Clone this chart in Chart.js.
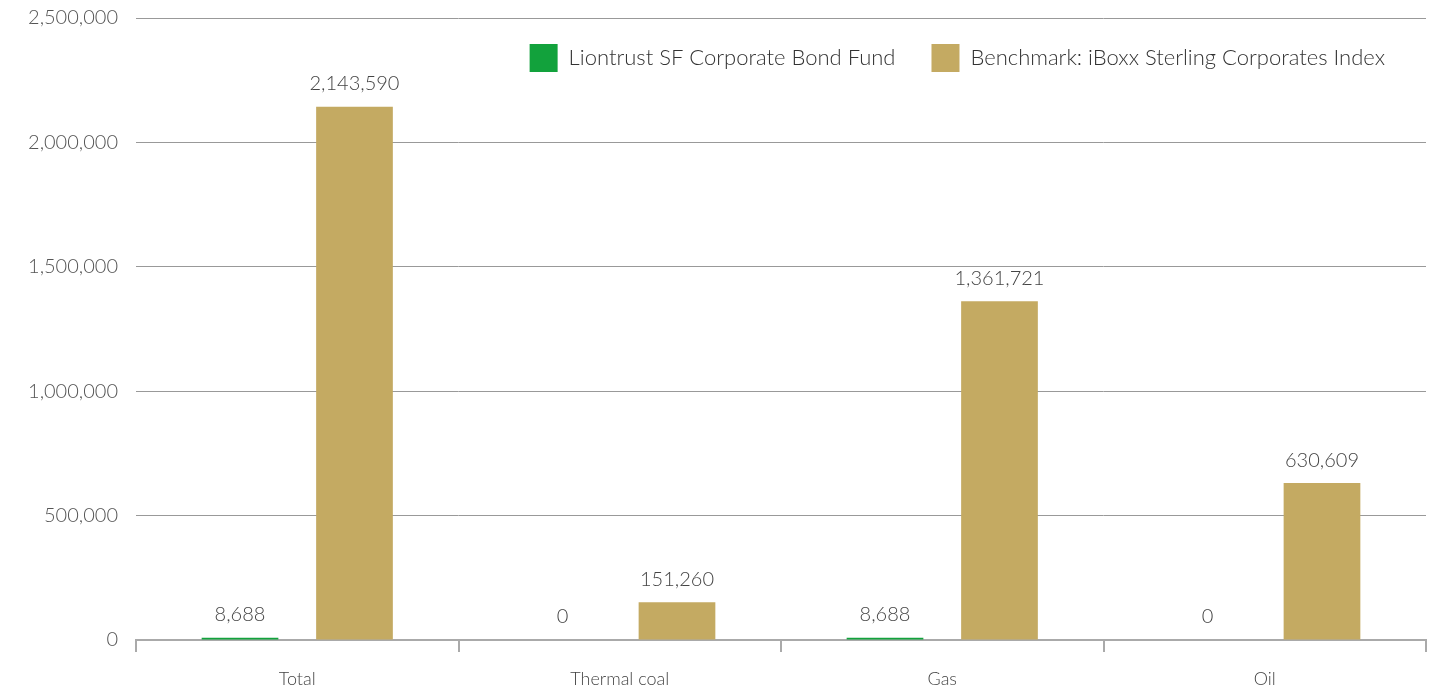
<!DOCTYPE html>
<html>
<head>
<meta charset="utf-8">
<script src="https://cdn.jsdelivr.net/npm/chart.js@4.4.1/dist/chart.umd.min.js"></script>
<style>
  html, body { margin: 0; padding: 0; background: #fff; overflow: hidden; }
  #wrap { width: 1442px; height: 692px; overflow: hidden; }
  #fossilChart { display: block; margin-top: -6px; }
</style>
</head>
<body>
<div id="wrap"><canvas id="fossilChart" width="1442" height="698"></canvas></div>
<script>
// Chart data
const categories = ['Total', 'Thermal coal', 'Gas', 'Oil'];
const fundValues = [8688, 0, 8688, 0];
const benchmarkValues = [2143590, 151260, 1361721, 630609];
const seriesNames = ['Liontrust SF Corporate Bond Fund', 'Benchmark: iBoxx Sterling Corporates Index'];
const seriesColors = ['#12a23c', '#c4aa62'];
const yTicks = [0, 500000, 1000000, 1500000, 2000000, 2500000];

const FONT = 'Lato, "Open Sans", sans-serif';

// Draw value labels above each bar
const valueLabels = {
  id: 'valueLabels',
  afterDatasetsDraw(chart) {
    const ctx = chart.ctx;
    ctx.save();
    ctx.font = '300 20px ' + FONT;
    ctx.fillStyle = '#444';
    ctx.textAlign = 'center';
    ctx.textBaseline = 'middle';
    chart.data.datasets.forEach((ds, i) => {
      const meta = chart.getDatasetMeta(i);
      meta.data.forEach((bar, j) => {
        ctx.fillText(ds.data[j].toLocaleString('en-GB'), bar.x, bar.y - 23);
      });
    });
    ctx.restore();
  }
};

// Legend drawn inside the plot, top right, in one row
const insideLegend = {
  id: 'insideLegend',
  afterDraw(chart) {
    const ctx = chart.ctx;
    const area = chart.chartArea;
    ctx.save();
    ctx.font = '300 22px ' + FONT;
    ctx.textBaseline = 'middle';
    ctx.textAlign = 'left';
    const box = 28, gap = 11, between = 36, cy = area.top + 40;
    let x = area.right - 41;
    for (let i = chart.data.datasets.length - 1; i >= 0; i--) {
      const ds = chart.data.datasets[i];
      const w = ctx.measureText(ds.label).width;
      x -= w;
      ctx.fillStyle = '#333';
      ctx.fillText(ds.label, x, cy);
      x -= gap + box;
      ctx.fillStyle = ds.backgroundColor;
      ctx.fillRect(x, cy - box / 2, box, box);
      x -= between;
    }
    ctx.restore();
  }
};

const ctx = document.getElementById('fossilChart').getContext('2d');
new Chart(ctx, {
  type: 'bar',
  data: {
    labels: categories,
    datasets: [
      {
        label: seriesNames[0],
        data: fundValues,
        backgroundColor: seriesColors[0],
        categoryPercentage: 0.71,
        barPercentage: 0.67
      },
      {
        label: seriesNames[1],
        data: benchmarkValues,
        backgroundColor: seriesColors[1],
        categoryPercentage: 0.71,
        barPercentage: 0.67
      }
    ]
  },
  options: {
    responsive: false,
    animation: false,
    layout: { padding: { top: 6, right: 16, left: 0, bottom: 0 } },
    plugins: {
      tooltip: { enabled: false },
      legend: { display: false }
    },
    scales: {
      x: {
        grid: {
          drawOnChartArea: false,
          drawTicks: true,
          tickLength: 12,
          color: '#aaa',
          lineWidth: 2
        },
        border: { color: '#aaa', width: 2 },
        ticks: {
          color: '#444',
          padding: 16,
          font: { family: FONT, size: 18, weight: '300' }
        },
        afterFit(scale) { scale.height = 52; }
      },
      y: {
        min: 0,
        max: 2500000,
        afterBuildTicks(scale) { scale.ticks = yTicks.map(v => ({ value: v })); },
        grid: { color: '#999', lineWidth: 1, drawTicks: false },
        border: { display: false },
        ticks: {
          color: '#555',
          padding: 18,
          font: { family: FONT, size: 20, weight: '300', lineHeight: 0.6 },
          callback: value => value.toLocaleString('en-GB')
        },
        afterFit(scale) { scale.width = 136; }
      }
    }
  },
  plugins: [valueLabels, insideLegend]
});
</script>
</body>
</html>
